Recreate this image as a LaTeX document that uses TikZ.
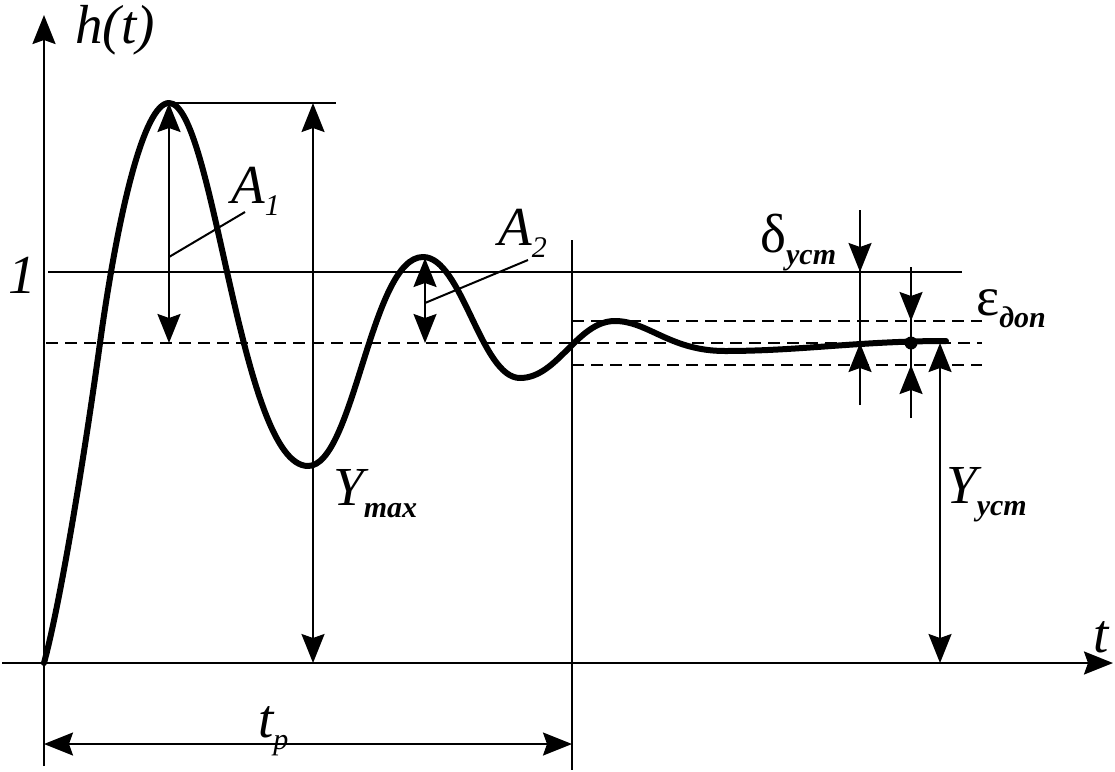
\documentclass[tikz,border=0pt]{standalone}
\usepackage{fontspec}
\setmainfont{Liberation Serif}
\usetikzlibrary{arrows.meta}
\newcommand\bigtxt{\fontsize{55}{60}\selectfont}
\newcommand\subtx[1]{\raisebox{-12pt}{\fontsize{30}{32}\selectfont\bfseries\itshape #1}}
\newcommand\subit[1]{\raisebox{-12pt}{\fontsize{30}{32}\selectfont\itshape #1}}
\begin{document}
\begin{tikzpicture}[x=1pt,y=-1pt,
  thinln/.style={line width=2pt},
  axisln/.style={line width=2.4pt},
  dashln/.style={line width=2pt, dash pattern=on 12pt off 7pt},
  curveln/.style={line width=6pt, line join=round, line cap=round},
  tipa/.tip={Stealth[length=29pt,width=23pt,inset=4pt]},
  lbl/.style={inner sep=0pt, anchor=base west, font=\bigtxt\itshape},
  glbl/.style={inner sep=0pt, anchor=base west, font=\bigtxt}]
\useasboundingbox (0,0) rectangle (1115,771);
% coordinates
\coordinate (ytop) at (44,15);
\coordinate (ybot) at (44,766);
\coordinate (xl) at (2,663);
\coordinate (xr) at (1113,663);
\coordinate (pk) at (169,103);
\coordinate (pkr) at (336,103);
\coordinate (ymT) at (313,103);
\coordinate (ymB) at (313,663);
\coordinate (a1T) at (169,103);
\coordinate (a1B) at (169,343);
\coordinate (a2T) at (425,258);
\coordinate (a2B) at (425,343);
\coordinate (l1a) at (169,257);
\coordinate (l1b) at (245,212);
\coordinate (l2a) at (425,303);
\coordinate (l2b) at (528,260);
\coordinate (oneL) at (48,272);
\coordinate (oneR) at (962,272);
\coordinate (dmL) at (46,343);
\coordinate (dmR) at (982,343);
\coordinate (duL) at (572,321);
\coordinate (duR) at (982,321);
\coordinate (dlL) at (572,365);
\coordinate (dlR) at (982,365);
\coordinate (vT) at (572,240);
\coordinate (vB) at (572,770);
\coordinate (tpL) at (44,744);
\coordinate (tpR) at (572,744);
\coordinate (dT) at (860,210);
\coordinate (dB) at (860,405);
\coordinate (d1) at (860,272);
\coordinate (d2) at (860,343);
\coordinate (eT) at (911,267);
\coordinate (eB) at (911,418);
\coordinate (e1) at (911,321);
\coordinate (e2) at (911,365);
\coordinate (dot) at (911,343);
\coordinate (yuT) at (940,343);
\coordinate (yuB) at (940,663);
% curve extrema
\coordinate (c0) at (44,663);
\coordinate (c1) at (100,343);
\coordinate (c2) at (169,103);
\coordinate (c3) at (308,466);
\coordinate (c4) at (423,257);
\coordinate (c5) at (520,378);
\coordinate (c6) at (615,321);
\coordinate (c7) at (725,351);
\coordinate (c8) at (946,341);
% axes
\draw[axisln,-{tipa}] (ybot) -- (ytop);
\draw[axisln,-{tipa}] (xl) -- (xr);
% reference lines
\draw[thinln] (oneL) -- (oneR);
\draw[thinln] (pk) -- (pkr);
\draw[dashln] (dmL) -- (dmR);
\draw[dashln] (duL) -- (duR);
\draw[dashln] (dlL) -- (dlR);
\draw[thinln] (vT) -- (vB);
% curve
\draw[curveln] (c0) .. controls (59,608) and (82,473) .. (c1)
  .. controls (118,213) and (144,103) .. (c2)
  .. controls (214,103) and (240,466) .. (c3)
  .. controls (354,466) and (371,257) .. (c4)
  .. controls (462,257) and (481,378) .. (c5)
  .. controls (558,378) and (577,321) .. (c6)
  .. controls (648,321) and (670,351) .. (c7)
  .. controls (800,351) and (860,341) .. (c8);
% dimension arrows
\draw[thinln,{tipa}-{tipa}] (ymT) -- (ymB);
\draw[thinln,{tipa}-{tipa}] (a1T) -- (a1B);
\draw[thinln,{tipa}-{tipa}] (a2T) -- (a2B);
\draw[thinln,{tipa}-{tipa}] (tpL) -- (tpR);
\draw[thinln,{tipa}-{tipa}] (yuT) -- (yuB);
\draw[thinln] (dT) -- (dB);
\draw[thinln,-{tipa}] (dT) -- (d1);
\draw[thinln,-{tipa}] (dB) -- (d2);
\draw[thinln] (eT) -- (eB);
\draw[thinln,-{tipa}] (eT) -- (e1);
\draw[thinln,-{tipa}] (eB) -- (e2);
\fill (dot) circle (6.5pt);
% leaders
\draw[thinln] (l1a) -- (l1b);
\draw[thinln] (l2a) -- (l2b);
% labels
\node[lbl] (ht) at (75,43) {h(t)};
\node[lbl] (one) at (8,293) {1};
\node[lbl] (tt) at (1093,652) {t};
\node[lbl] (A1) at (231,203) {A\subit{1}};
\node[lbl] (A2) at (498,245) {A\subit{2}};
\node[lbl] (ymax) at (333,505) {Y\subtx{max}};
\node[lbl] (yust) at (946,503) {Y\subtx{уст}};
\node[glbl] (dust) at (760,252) {δ\subtx{уст}};
\node[glbl] (edop) at (976,315) {ε\subtx{доп}};
\node[lbl] (tp) at (258,737) {t\subit{p}};
\end{tikzpicture}
\end{document}
